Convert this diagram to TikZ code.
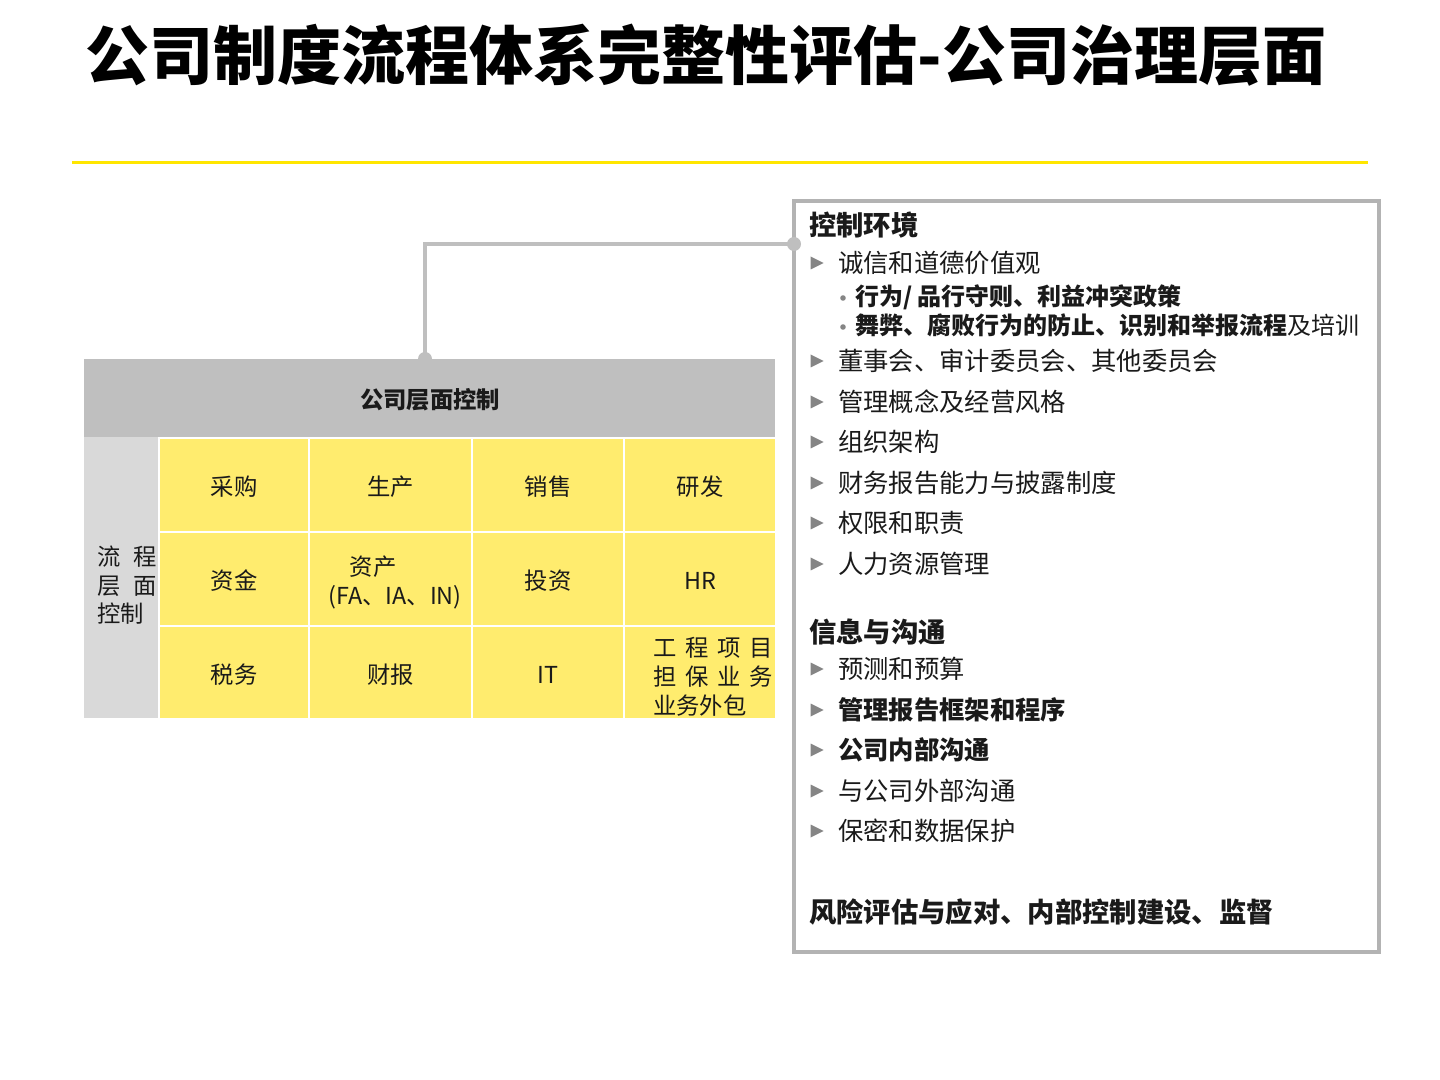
\documentclass[tikz,border=0pt]{standalone}
\usepackage{fontspec}
\setmainfont{Noto Sans CJK SC}
\definecolor{eyyellow}{HTML}{FFE600}
\definecolor{cellyellow}{HTML}{FFEC6E}
\definecolor{hdrgray}{HTML}{BFBFBF}
\definecolor{sidegray}{HTML}{D9D9D9}
\definecolor{conngray}{HTML}{BFBFBF}
\definecolor{boxgray}{HTML}{B3B3B3}
\definecolor{bulgray}{HTML}{858585}
\definecolor{txt}{HTML}{1A1A1A}
\begin{document}
\begin{tikzpicture}[x=0.75pt,y=-0.75pt,
  every node/.style={inner sep=0pt, outer sep=0pt, text=txt},
  sz/.style 2 args={minimum width=#1*0.75pt, minimum height=#2*0.75pt, anchor=north west},
  ycell/.style={fill=cellyellow},
  celltxt/.style={anchor=base, yshift=-8pt, font=\fontsize{17.5pt}{21pt}\selectfont},
  celltxtw/.style={celltxt, anchor=base west},
  itemtxt/.style={anchor=base west, yshift=-7pt, font=\fontsize{19pt}{23pt}\selectfont},
  itembold/.style={itemtxt, font=\bfseries\fontsize{19pt}{23pt}\selectfont},
  subtxt/.style={anchor=base west, yshift=-6.66pt, font=\bfseries\fontsize{18pt}{22pt}\selectfont},
  headtxt/.style={anchor=base west, yshift=-7.6pt, font=\bfseries\fontsize{20.5pt}{24pt}\selectfont},
  conn/.style={draw=conngray, line width=3pt},
  tribullet/.pic={\fill[bulgray] (-6.5,-6.5) -- (6.5,0) -- (-6.5,6.5) -- cycle;},
  dotbullet/.pic={\fill[bulgray] (0,0) circle (2.8);}
]
\useasboundingbox (0,0) rectangle (1440,1080);

% title
\node[anchor=base, yshift=-18pt, font=\bfseries\fontsize{48pt}{56pt}\selectfont, text=black] (title) at (706,56) {公司制度流程体系完整性评估-公司治理层面};
\draw[eyyellow, line width=2.25pt] (72,163) -- (1368,163);

% table
\node[sz={691}{78}, fill=hdrgray] (hdr) at (84,359) {};
\node[celltxt, font=\bfseries\fontsize{17.5pt}{21pt}\selectfont] (hdrtxt) at (430,398) {公司层面控制};
\node[sz={74}{281}, fill=sidegray] (side) at (84,437) {};
\node[celltxtw] (s1) at (97,555) {流\hspace{9.75pt}程};
\node[celltxtw] (s2) at (97,584) {层\hspace{9.75pt}面};
\node[celltxtw] (s3) at (97,612) {控制};

\node[sz={148}{92}, ycell] (c11) at (160,439) {};
\node[sz={161}{92}, ycell] (c12) at (310,439) {};
\node[sz={150}{92}, ycell] (c13) at (473,439) {};
\node[sz={150}{92}, ycell] (c14) at (625,439) {};
\node[celltxt] (t11) at (c11) {采购};
\node[celltxt] (t12) at (c12) {生产};
\node[celltxt] (t13) at (c13) {销售};
\node[celltxt] (t14) at (c14) {研发};

\node[sz={148}{92}, ycell] (c21) at (160,533) {};
\node[sz={161}{92}, ycell] (c22) at (310,533) {};
\node[sz={150}{92}, ycell] (c23) at (473,533) {};
\node[sz={150}{92}, ycell] (c24) at (625,533) {};
\node[celltxt] (t21) at (c21) {资金};
\node[celltxt] (t22a) at (373,565) {资产};
\node[celltxt] (t22b) at (395,594) {(FA、IA、IN)};
\node[celltxt] (t23) at (c23) {投资};
\node[celltxt] (t24) at (c24) {HR};

\node[sz={148}{91}, ycell] (c31) at (160,627) {};
\node[sz={161}{91}, ycell] (c32) at (310,627) {};
\node[sz={150}{91}, ycell] (c33) at (473,627) {};
\node[sz={150}{91}, ycell] (c34) at (625,627) {};
\node[celltxt] (t31) at (c31) {税务};
\node[celltxt] (t32) at (c32) {财报};
\node[celltxt] (t33) at (c33) {IT};
\node[celltxtw] (t34a) at (653,646) {工\hspace{6.6pt}程\hspace{6.6pt}项\hspace{6.6pt}目};
\node[celltxtw] (t34b) at (653,675) {担\hspace{6.6pt}保\hspace{6.6pt}业\hspace{6.6pt}务};
\node[celltxtw] (t34c) at (653,704) {业务外包};

% right box
\node[sz={585}{751}, draw=boxgray, line width=3pt] (box) at (794,201) {};
\coordinate (cA) at (794,244);
\coordinate (cB) at (425,359);

% connector
\draw[conn] (cB) |- (cA);
\fill[conngray] (cA) circle (7);
\fill[conngray] (cB) circle (7);

% box content
\node[headtxt] (h1) at (809,225) {控制环境};
\pic at (817,263) {tribullet};
\node[itemtxt] (i1) at (838,263) {诚信和道德价值观};
\pic at (843,298) {dotbullet};
\node[subtxt] (u1) at (855,297) {行为/ 品行守则、利益冲突政策};
\pic at (843,327) {dotbullet};
\node[subtxt] (u2) at (855,326) {舞弊、腐败行为的防止、识别和举报流程\mdseries 及培训};
\pic at (817,361) {tribullet};
\node[itemtxt] (i2) at (838,361) {董事会、审计委员会、其他委员会};
\pic at (817,402) {tribullet};
\node[itemtxt] (i3) at (838,402) {管理概念及经营风格};
\pic at (817,442) {tribullet};
\node[itemtxt] (i4) at (838,442) {组织架构};
\pic at (817,483) {tribullet};
\node[itemtxt] (i5) at (838,483) {财务报告能力与披露制度};
\pic at (817,523) {tribullet};
\node[itemtxt] (i6) at (838,523) {权限和职责};
\pic at (817,564) {tribullet};
\node[itemtxt] (i7) at (838,564) {人力资源管理};

\node[headtxt] (h2) at (809,632) {信息与沟通};
\pic at (817,669) {tribullet};
\node[itemtxt] (j1) at (838,669) {预测和预算};
\pic at (817,710) {tribullet};
\node[itembold] (j2) at (838,710) {管理报告框架和程序};
\pic at (817,750) {tribullet};
\node[itembold] (j3) at (838,750) {公司内部沟通};
\pic at (817,791) {tribullet};
\node[itemtxt] (j4) at (838,791) {与公司外部沟通};
\pic at (817,831) {tribullet};
\node[itemtxt] (j5) at (838,831) {保密和数据保护};

\node[headtxt] (h3) at (809,912) {风险评估与应对、内部控制建设、监督};
\end{tikzpicture}
\end{document}
